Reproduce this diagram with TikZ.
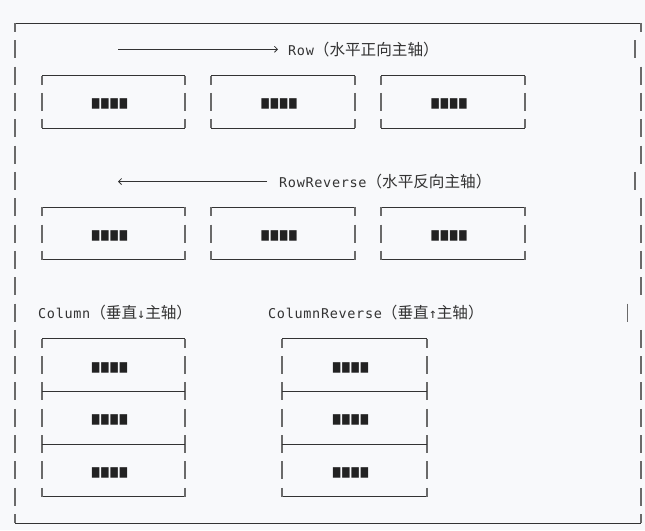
\documentclass[tikz,border=0pt]{standalone}
\usepackage{fontspec}
\usepackage{graphicx}
\usetikzlibrary{arrows.meta}
\newfontfamily\monof[LetterSpace=5]{DejaVu Sans Mono}
\newfontfamily\cjkfam{Noto Sans CJK SC}
\newcommand{\cjkf}{\fontsize{15.6}{16}\selectfont\cjkfam}
\newcommand{\monoback}{\fontsize{13.5}{16}\selectfont\monof}
\newfontfamily\symf{DejaVu Sans}
\definecolor{bg}{HTML}{F8F9FB}
\definecolor{ink}{HTML}{333333}
\definecolor{barc}{HTML}{6A6A6A}
\definecolor{blk}{HTML}{222222}
\newcommand{\blocks}{\resizebox*{37pt}{10.5pt}{\symf ■■■■}}
\newcommand{\vseg}[2]{\draw[vl] (#1,{23+26.32*(#2)-9}) -- (#1,{23+26.32*(#2)+9});}
\newcommand{\vtopseg}[2]{\draw[vl] (#1,{23+26.32*(#2)}) -- (#1,{23+26.32*(#2)+9});}
\newcommand{\vbotseg}[2]{\draw[vl] (#1,{23+26.32*(#2)-9}) -- (#1,{23+26.32*(#2)});}
\newcommand{\hseg}[3]{\draw[hl] (#1,{23+26.32*(#3)}) -- (#2,{23+26.32*(#3)});}
% x1, x2, top line, bottom line
\newcommand{\asciibox}[4]{%
  \hseg{#1}{#2}{#3}\hseg{#1}{#2}{#4}%
  \vtopseg{#1}{#3}\vtopseg{#2}{#3}%
  \vbotseg{#1}{#4}\vbotseg{#2}{#4}%
  \foreach \k in {#3,...,#4}{\ifnum\k>#3\ifnum\k<#4 \vseg{#1}{\k}\vseg{#2}{\k}\fi\fi}%
}
\begin{document}
\begin{tikzpicture}[x=1pt,y=-1pt,
  hl/.style={draw=ink,line width=0.9pt},
  vl/.style={draw=barc,line width=1.3pt},
  lbl/.style={inner sep=0pt,text=ink,font=\monoback},
  blkn/.style={inner sep=0pt,text=blk},
  arr/.style={draw=ink,line width=0.8pt,-{Straight Barb[length=3pt,width=6pt]}}]
\fill[bg] (0,0) rectangle (645,530);
\useasboundingbox (0,0) rectangle (645,530);
% outer frame
\hseg{15}{641}{0}
\hseg{15}{641}{19}
\vtopseg{15}{0}\vbotseg{15}{19}
\vtopseg{641}{0}\vbotseg{641}{19}
\foreach \k in {1,...,18}{\vseg{15}{\k}}
\foreach \k in {2,3,4,5,7,8,9,10,12,13,14,15,16,17,18}{\vseg{641}{\k}}
\vseg{635}{1}\vseg{635}{6}\vseg{627.5}{11}
% Row
\coordinate (r1) at (118,49.3);
\coordinate (r2) at (278,49.3);
\draw[arr] (r1) -- (r2);
\node[lbl,anchor=base west] (rowlbl) at (288,55.5) {Row\cjkf（水平正向主轴）};
\asciibox{42}{185}{2}{4}
\asciibox{211}{355}{2}{4}
\asciibox{381}{525}{2}{4}
\node[blkn] (a1) at (109.5,104) {\blocks};
\node[blkn] (a2) at (279,104) {\blocks};
\node[blkn] (a3) at (449,104) {\blocks};
% RowReverse
\coordinate (rr1) at (267,181.5);
\coordinate (rr2) at (118,181.5);
\draw[arr] (rr1) -- (rr2);
\node[lbl,anchor=base west] (rrlbl) at (279,187.5) {RowReverse\cjkf（水平反向主轴）};
\asciibox{42}{185}{7}{9}
\asciibox{211}{355}{7}{9}
\asciibox{381}{525}{7}{9}
\node[blkn] (b1) at (109.5,235.5) {\blocks};
\node[blkn] (b2) at (279,235.5) {\blocks};
\node[blkn] (b3) at (449,235.5) {\blocks};
% Column
\node[lbl,anchor=base west] (collbl) at (38,318.5) {Column\cjkf（垂直\monoback↓\cjkf 主轴）};
\node[lbl,anchor=base west] (crlbl) at (268,318.5) {ColumnReverse\cjkf（垂直\monoback↑\cjkf 主轴）};
\asciibox{42}{185}{12}{18}
\hseg{42}{185}{14}\hseg{42}{185}{16}
\asciibox{282}{427}{12}{18}
\hseg{282}{427}{14}\hseg{282}{427}{16}
\node[blkn] (c1) at (109.5,367.5) {\blocks};
\node[blkn] (c2) at (109.5,420) {\blocks};
\node[blkn] (c3) at (109.5,472.5) {\blocks};
\node[blkn] (d1) at (350.5,367.5) {\blocks};
\node[blkn] (d2) at (350.5,420) {\blocks};
\node[blkn] (d3) at (350.5,472.5) {\blocks};
\end{tikzpicture}
\end{document}
